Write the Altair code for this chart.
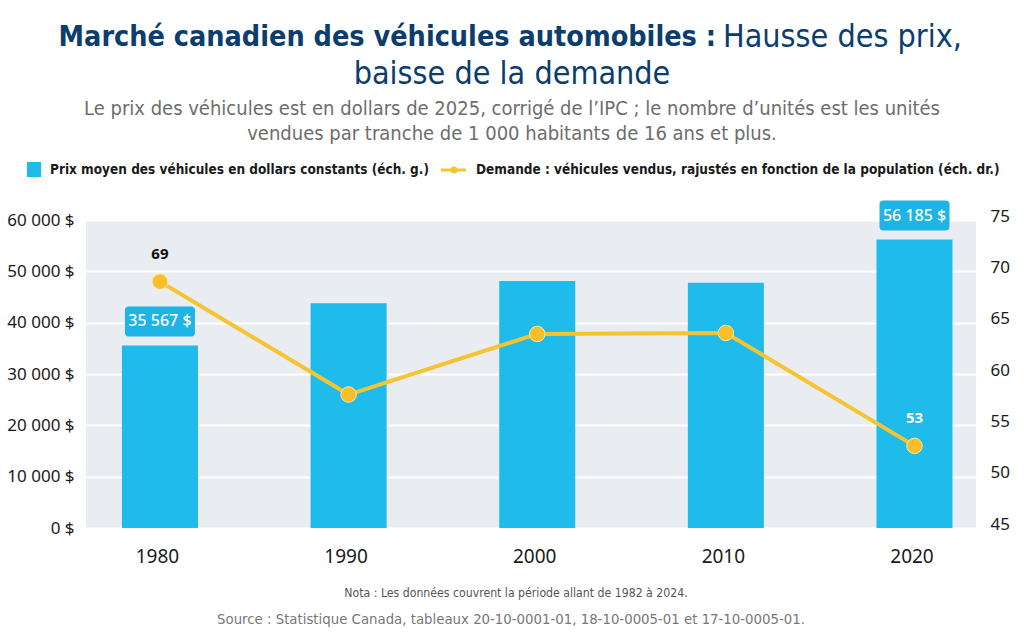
import altair as alt
import pandas as pd

# Series
years = [1980, 1990, 2000, 2010, 2020]
prices = [35567, 43800, 48100, 47800, 56185]          # constant 2025 dollars
demand = [69, 58, 63.9, 64.0, 53]                     # units per 1 000 people aged 16+
labelled = [1980, 2020]

price_ticks = [0, 10000, 20000, 30000, 40000, 50000, 60000]
demand_ticks = [45, 50, 55, 60, 65, 70, 75]

BLUE = "#1fbbea"
YELLOW = "#f6c431"
NAVY = "#0b3d6e"
COND = "Liberation Sans Narrow, DejaVu Sans Condensed, Roboto"
BODY = "Noto Sans"

df = pd.DataFrame({"year": years, "price": prices, "demand": demand})
df["price_label"] = [f"{p:,}".replace(",", " ") + " $" for p in prices]
df["demand_label"] = [f"{d:.0f}" for d in demand]
lab = df[df["year"].isin(labelled)]

x = alt.X(
    "year:Q",
    scale=alt.Scale(domain=[1976.08, 2023.26], nice=False, zero=False, padding=0),
    axis=alt.Axis(values=years, format="d", title=None, grid=False, domain=False,
                  ticks=False, labelFontSize=19, labelPadding=19, labelColor="#1a1a1a",
                  labelFont=BODY, labelOffset=-3),
)

y_price = alt.Y(
    "price:Q",
    scale=alt.Scale(domain=[0, 60000], nice=False),
    axis=alt.Axis(values=price_ticks, title=None, domain=False, ticks=False,
                  gridColor="white", gridWidth=2, labelFontSize=17, labelPadding=12,
                  labelColor="#1a1a1a", labelFont=BODY,
                  labelExpr="replace(format(datum.value, ','), regexp(',', 'g'), ' ') + ' $'"),
)

y_demand = alt.Y(
    "demand:Q",
    scale=alt.Scale(domain=[45, 75], nice=False, zero=False),
    axis=alt.Axis(values=demand_ticks, title=None, orient="right", domain=False, ticks=False,
                  grid=False, labelFontSize=17, labelPadding=14, labelColor="#1a1a1a",
                  labelFont=BODY, labelOffset=-4),
)

bars = alt.Chart(df).mark_bar(size=76, color=BLUE).encode(x=x, y=y_price)

# rounded label box drawn as a custom symbol (70 x 30 px)
box_path = ("M-0.886,-0.4286 L0.886,-0.4286 Q1,-0.4286 1,-0.3143 L1,0.3143 Q1,0.4286 0.886,0.4286 "
            "L-0.886,0.4286 Q-1,0.4286 -1,0.3143 L-1,-0.3143 Q-1,-0.4286 -0.886,-0.4286 Z")
price_box = alt.Chart(lab).mark_point(shape=box_path, size=4900, filled=True, opacity=1,
                                      color="#1fb4e6", strokeWidth=0, yOffset=-24).encode(
    x="year:Q", y="price:Q")
price_text = alt.Chart(lab).mark_text(color="white", fontSize=16, font=BODY, fontWeight=500,
                                      yOffset=-24, baseline="middle").encode(
    x="year:Q", y="price:Q", text="price_label:N")

left = alt.layer(bars, price_box, price_text)

line = alt.Chart(df).mark_line(color=YELLOW, strokeWidth=4).encode(x="year:Q", y=y_demand)
pts = alt.Chart(df).mark_circle(size=240, color="#f9be28", opacity=1, stroke="#fde9a8",
                                strokeWidth=1).encode(x="year:Q", y="demand:Q")
demand_text = alt.Chart(lab).mark_text(fontSize=15, fontWeight="bold", font=BODY, yOffset=-28,
                                       baseline="middle").encode(
    x="year:Q", y="demand:Q", text="demand_label:N",
    color=alt.condition(alt.datum.year == 2020, alt.value("white"), alt.value("#111")))

right = alt.layer(line, pts, demand_text)


def txt(s, x, y, **kw):
    return alt.Chart(pd.DataFrame({"t": [s]})).mark_text(baseline="middle", **kw).encode(
        x=alt.value(x), y=alt.value(y), text="t:N")


one = pd.DataFrame({"k": [0]})
legend_square = alt.Chart(one).mark_rect(color=BLUE).encode(
    x=alt.value(-59), x2=alt.value(-45), y=alt.value(-58), y2=alt.value(-43))
legend_line = alt.Chart(one).mark_rule(color=YELLOW, strokeWidth=3).encode(
    x=alt.value(355), x2=alt.value(380), y=alt.value(-50))
legend_dot = alt.Chart(one).mark_circle(color=YELLOW, size=50, opacity=1).encode(
    x=alt.value(368), y=alt.value(-50))

decor = [
    txt("Marché canadien des véhicules automobiles :", 630, -183, align="right",
        font=COND, fontSize=28.5, fontWeight="bold", color=NAVY),
    txt("Hausse des prix,", 637, -183, align="left", font=COND, fontSize=32, color=NAVY),
    txt("baisse de la demande", 426, -146, align="center", font=COND, fontSize=32, color=NAVY),
    txt("Le prix des véhicules est en dollars de 2025, corrigé de l’IPC ; le nombre d’unités est les unités",
        426, -111, align="center", font=COND, fontSize=20, color="#6d6d6d"),
    txt("vendues par tranche de 1 000 habitants de 16 ans et plus.",
        426, -86, align="center", font=COND, fontSize=20, color="#6d6d6d"),
    legend_square, legend_line, legend_dot,
    txt("Prix moyen des véhicules en dollars constants (éch. g.)", -36, -50, align="left",
        font=COND, fontSize=13.5, fontWeight="bold", color="#1a1a1a"),
    txt("Demande : véhicules vendus, rajustés en fonction de la population (éch. dr.)", 390, -50,
        align="left", font=COND, fontSize=13.5, fontWeight="bold", color="#1a1a1a"),
    txt("Nota : Les données couvrent la période allant de 1982 à 2024.", 430, 373, align="center",
        font=COND, fontSize=12.2, color="#555555"),
    txt("Source : Statistique Canada, tableaux 20-10-0001-01, 18-10-0005-01 et 17-10-0005-01.",
        425, 400, align="center", font=COND, fontSize=14.8, color="#777777"),
]

chart = alt.layer(left, right, *decor).resolve_scale(y="independent").properties(
    width=890, height=308,
    autosize=alt.AutoSizeParams(type="none"),
    padding={"left": 86, "top": 220, "right": 48, "bottom": 107},
    background="white",
).configure_view(fill="#e9ecf0", stroke=None)

chart.save("out.html", embed_options={"renderer": "svg", "actions": False})
